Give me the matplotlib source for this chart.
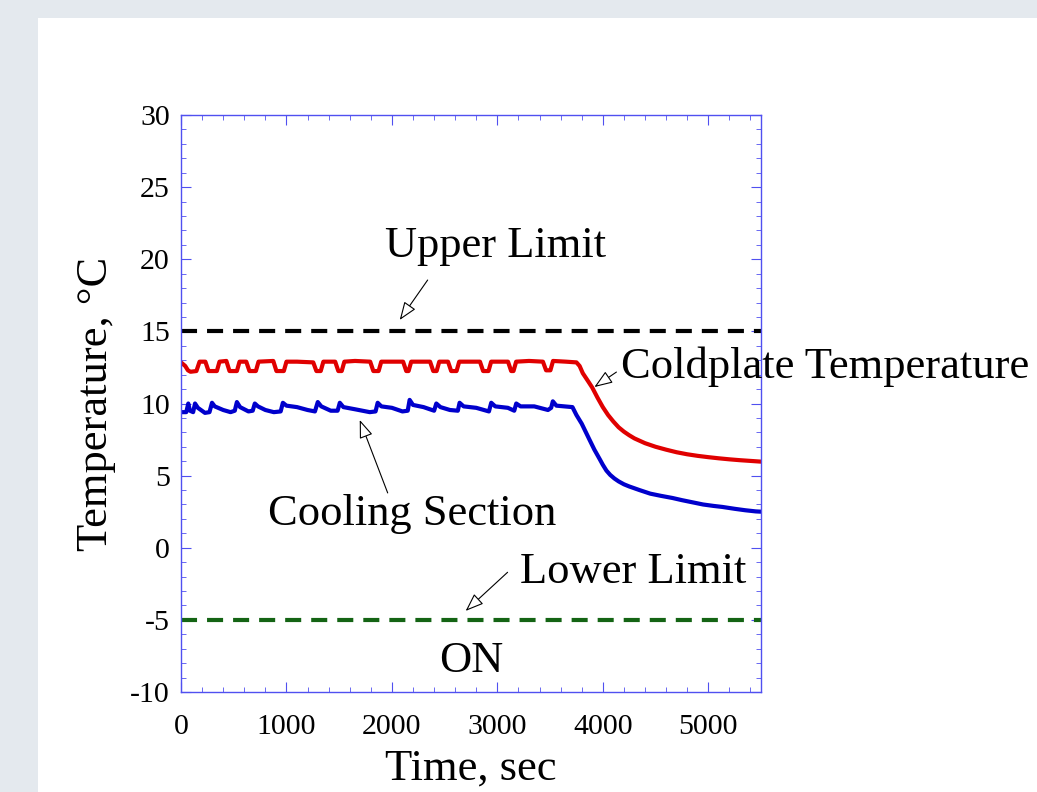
import matplotlib
matplotlib.use("Agg")
import matplotlib.pyplot as plt
from matplotlib.patches import Rectangle
from matplotlib.ticker import MultipleLocator

plt.rcParams['font.family'] = ['Liberation Serif', 'DejaVu Serif']
plt.rcParams['axes.unicode_minus'] = False

# coldplate temperature (red)
red_t = [0, 40, 66, 90, 146, 176, 231, 261, 340, 365, 430, 460, 530, 555,
         619, 649, 710, 735, 875, 905, 975, 1000, 1100, 1254, 1284, 1325, 1350,
         1462, 1492, 1524, 1549, 1650, 1794, 1824, 1874, 1899, 2106, 2136, 2158,
         2183, 2362, 2392, 2424, 2449, 2532, 2562, 2613, 2638, 2835, 2865, 2916,
         2941, 3101, 3131, 3153, 3178, 3300, 3432, 3462, 3503, 3528, 3650, 3750,
         3780, 3810, 3860, 3900, 3950, 4000, 4050, 4100, 4150, 4200, 4250, 4300, 4400,
         4500, 4600, 4700, 4800, 4900, 5000, 5100, 5200, 5300, 5400, 5500]
red_T = [12.85, 12.6, 12.3, 12.2, 12.25, 12.9, 12.9, 12.25, 12.25, 12.9, 12.95, 12.25, 12.25, 12.9,
         12.9, 12.25, 12.25, 12.9, 12.95, 12.25, 12.25, 12.9, 12.9, 12.85, 12.25, 12.25, 12.9,
         12.9, 12.25, 12.25, 12.9, 12.95, 12.9, 12.25, 12.25, 12.9, 12.9, 12.25, 12.25,
         12.9, 12.9, 12.25, 12.25, 12.9, 12.9, 12.25, 12.25, 12.9, 12.9, 12.25, 12.25,
         12.9, 12.9, 12.25, 12.25, 12.9, 12.95, 12.9, 12.3, 12.3, 12.95, 12.9, 12.85,
         12.6, 12.1, 11.55, 11.1, 10.4, 9.75, 9.2, 8.75, 8.35, 8.05, 7.8, 7.58, 7.25,
         7.0, 6.8, 6.62, 6.48, 6.37, 6.28, 6.2, 6.13, 6.07, 6.02, 5.97]

# cooling section temperature (blue)
blue_t = [0, 50, 69, 85, 115, 133, 160, 227, 270, 294, 320, 400, 470, 510, 530, 560,
          640, 680, 700, 730, 800, 880, 945, 966, 1000, 1100, 1200, 1270, 1297, 1330,
          1420, 1485, 1506, 1540, 1650, 1790, 1845, 1865, 1900, 2000, 2100, 2150, 2168,
          2200, 2300, 2400, 2421, 2460, 2550, 2625, 2642, 2680, 2800, 2920, 2942, 2980,
          3100, 3160, 3179, 3220, 3350, 3480, 3510, 3526, 3560, 3712, 3750, 3800, 3873,
          3920, 3970, 4000, 4034, 4070, 4110, 4150, 4200, 4250, 4347, 4450, 4550, 4660,
          4750, 4850, 4950, 5050, 5133, 5250, 5350, 5450, 5500]
blue_T = [9.4, 9.4, 10.0, 9.5, 9.4, 10.0, 9.7, 9.35, 9.4, 10.05, 9.8, 9.55, 9.4, 9.5, 10.1, 9.75,
          9.45, 9.5, 10.0, 9.8, 9.55, 9.4, 9.45, 10.05, 9.85, 9.75, 9.55, 9.45, 10.1, 9.8,
          9.5, 9.5, 10.05, 9.75, 9.6, 9.4, 9.45, 10.05, 9.8, 9.7, 9.45, 9.5, 10.25,
          9.9, 9.75, 9.5, 10.0, 9.75, 9.55, 9.5, 10.05, 9.8, 9.7, 9.45, 10.05, 9.8,
          9.7, 9.5, 10.0, 9.8, 9.8, 9.55, 9.7, 10.15, 9.85, 9.75, 9.2, 8.6, 7.5,
          6.8, 6.15, 5.75, 5.35, 5.05, 4.8, 4.6, 4.4, 4.25, 4.0, 3.75, 3.6, 3.45,
          3.3, 3.15, 3.0, 2.9, 2.83, 2.7, 2.6, 2.52, 2.5]

upper_limit = 15
lower_limit = -5

fig = plt.figure(figsize=(10.37, 7.92), dpi=100, facecolor='#e4e9ee')
fig.add_artist(Rectangle((38 / 1037, 0), 1, 1 - 18 / 792, transform=fig.transFigure,
                         facecolor='white', edgecolor='none', zorder=-5))
ax = fig.add_axes([181 / 1037, 100 / 792, 580 / 1037, 577 / 792])

ax.axhline(upper_limit, color='black', lw=3, dashes=(3.85, 2.4))
ax.axhline(lower_limit, color='#146414', lw=3, dashes=(3.85, 2.4))
ax.plot(red_t, red_T, color='#e00000', lw=3)
ax.plot(blue_t, blue_T, color='#0000cc', lw=3)

ax.set_xlim(0, 5500)
ax.set_ylim(-10, 30)
ax.xaxis.set_major_locator(MultipleLocator(1000))
ax.xaxis.set_minor_locator(MultipleLocator(200))
ax.yaxis.set_major_locator(MultipleLocator(5))
ax.yaxis.set_minor_locator(MultipleLocator(1))
spine_c = '#5050f0'
for s in ax.spines.values():
    s.set_color(spine_c)
    s.set_linewidth(1.0)
ax.tick_params(which='both', direction='in', top=True, right=True, color=spine_c,
               labelsize=21.5)
ax.tick_params(axis='x', which='both', pad=16)
ax.tick_params(axis='y', which='both', pad=8)
ax.tick_params(which='major', length=7)
ax.tick_params(which='minor', length=3.5)

ax.set_xlabel('Time, sec', fontsize=32, labelpad=6)
ax.set_ylabel('Temperature, °C', fontsize=32, labelpad=10)

arrow = dict(arrowstyle='-|>,head_length=0.8,head_width=0.3', fc='white', ec='black',
             lw=0.8, mutation_scale=14, shrinkA=0, shrinkB=0)
txt = 32
ax.annotate('', xy=(2074, 15.79), xytext=(2339, 18.56), arrowprops=arrow)
ax.text(2983, 20.16, 'Upper Limit', fontsize=txt, ha='center', va='baseline')
ax.annotate('', xy=(3920, 11.14), xytext=(4129, 12.18), arrowprops=arrow, annotation_clip=False)
ax.text(4176, 11.77, 'Coldplate Temperature', fontsize=txt, ha='left', va='baseline', clip_on=False)
ax.annotate('', xy=(1695, 8.86), xytext=(1960, 3.8), arrowprops=arrow)
ax.text(2192, 1.58, 'Cooling Section', fontsize=txt, ha='center', va='baseline')
ax.annotate('', xy=(2699, -4.38), xytext=(3097, -1.7), arrowprops=arrow)
ax.text(4285, -2.44, 'Lower Limit', fontsize=txt, ha='center', va='baseline')
ax.text(2756, -8.61, 'ON', fontsize=txt, ha='center', va='baseline')

fig.savefig('out.png', dpi=100, facecolor=fig.get_facecolor())
